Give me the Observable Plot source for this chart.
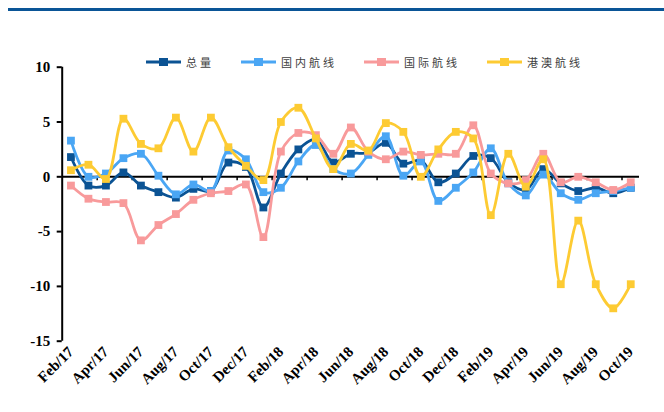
<!DOCTYPE html>
<html><head><meta charset="utf-8">
<script src="https://cdn.jsdelivr.net/npm/d3@7"></script>
<script src="https://cdn.jsdelivr.net/npm/@observablehq/plot@0.6"></script>
<style>
body{margin:0;background:#fff;width:664px;height:412px;overflow:hidden;position:relative;}
#bar{position:absolute;left:8px;top:8px;width:656px;height:3px;background:#0a5597}
#chart{position:absolute;left:0;top:0}
#legend{position:absolute;top:54px;left:146px;display:flex;gap:27px;font-family:"Noto Sans CJK SC",sans-serif;font-size:11px;color:#404040;letter-spacing:3px;line-height:16px}
.item{display:flex;align-items:center;gap:5px}
</style></head><body>
<div id="bar"></div>
<div id="chart"></div>
<div id="legend"></div>
<script>
const months = ["Feb/17","Mar/17","Apr/17","May/17","Jun/17","Jul/17","Aug/17","Sep/17","Oct/17","Nov/17","Dec/17",
  "Jan/18","Feb/18","Mar/18","Apr/18","May/18","Jun/18","Jul/18","Aug/18","Sep/18","Oct/18","Nov/18","Dec/18",
  "Jan/19","Feb/19","Mar/19","Apr/19","May/19","Jun/19","Jul/19","Aug/19","Sep/19","Oct/19"];
const tickLabels = ["Feb/17","Apr/17","Jun/17","Aug/17","Oct/17","Dec/17","Feb/18","Apr/18","Jun/18","Aug/18","Oct/18","Dec/18","Feb/19","Apr/19","Jun/19","Aug/19","Oct/19"];
const seriesNames = ["总量","国内航线","国际航线","港澳航线"];
const seriesColors = ["#0b5394","#4aa6f4","#f89a9b","#fdcb33"];
const total    = [1.8,-0.8,-0.8,0.4,-0.8,-1.4,-1.9,-1.1,-1.3,1.3,0.9,-2.8,0.3,2.5,3.4,1.3,2.1,2.2,3.1,1.2,1.5,-0.5,0.3,1.9,1.7,-0.5,-1.2,0.7,-0.6,-1.3,-1.0,-1.5,-1.0];
const domestic = [3.3,0.0,0.3,1.7,2.1,0.1,-1.6,-0.7,-1.3,2.4,1.6,-1.4,-1.0,1.4,2.9,0.7,0.3,2.0,3.7,0.1,1.4,-2.2,-1.0,0.4,2.6,-0.6,-1.7,0.2,-1.5,-2.1,-1.5,-1.3,-1.0];
const intl     = [-0.8,-2.0,-2.3,-2.4,-5.8,-4.4,-3.4,-2.1,-1.5,-1.3,-0.7,-5.5,2.3,4.0,3.8,2.1,4.5,2.3,1.6,2.3,2.0,2.1,2.1,4.7,0.3,-0.6,-0.3,2.1,-0.5,0.0,-0.5,-1.2,-0.5];
const hkmo     = [0.6,1.1,-0.2,5.3,3.0,2.6,5.4,2.3,5.4,2.7,1.0,-0.3,5.0,6.3,3.5,0.7,3.0,2.4,4.9,4.1,0.0,2.5,4.1,3.5,-3.5,2.1,-0.9,1.6,-9.8,-4.0,-9.8,-12.0,-9.8];
const yTicks = [-15,-10,-5,0,5,10];

const seriesValues = [total, domestic, intl, hkmo];
const n = months.length;
const xDomain = [-0.5, n - 0.5];
const tickIdx = tickLabels.map(l => months.indexOf(l));
const boundaries = d3.range(1.5, n - 0.5, 2);

const seriesMarks = [];
seriesValues.forEach((vals, s) => {
  const rows = vals.map((v, i) => ({i, month: months[i], value: v}));
  seriesMarks.push(Plot.line(rows, {x: "i", y: "value", stroke: seriesColors[s], strokeWidth: 2.8, curve: "catmull-rom"}));
  seriesMarks.push(Plot.dot(rows, {x: "i", y: "value", symbol: "square", fill: seriesColors[s], r: 4.4}));
});

const chart = Plot.plot({
  width: 664, height: 412,
  marginTop: 66.7, marginBottom: 71.3, marginLeft: 61.7, marginRight: 25,
  x: {type: "linear", domain: xDomain},
  y: {domain: [-15, 10]},
  style: {fontFamily: "'Liberation Serif', serif", fontWeight: "bold", fontSize: "15px", color: "#000", background: "transparent", overflow: "visible"},
  marks: [
    Plot.ruleY([0], {stroke: "#000", strokeWidth: 2}),
    Plot.ruleX(boundaries, {y1: 0, y2: -0.35, stroke: "#000", strokeWidth: 1.5}),
    Plot.ruleX([xDomain[0]], {y1: -15, y2: 10, stroke: "#000", strokeWidth: 2}),
    Plot.axisY({ticks: yTicks, tickSize: 5, tickPadding: 7, tickFormat: d => String(d), label: null, strokeWidth: 2}),
    Plot.axisX({ticks: tickIdx, tickFormat: i => months[i], tickRotate: -45, tickSize: 0, tickPadding: 8, label: null}),
    ...seriesMarks
  ]
});
document.getElementById("chart").appendChild(chart);

const legend = document.getElementById("legend");
seriesNames.forEach((name, s) => {
  const item = document.createElement("div");
  item.className = "item";
  item.innerHTML = `<svg width="35" height="10"><line x1="0" x2="35" y1="5" y2="5" stroke="${seriesColors[s]}" stroke-width="3"/><rect x="13" y="1" width="9" height="8" fill="${seriesColors[s]}"/></svg><span>${name}</span>`;
  legend.appendChild(item);
});
</script>
</body></html>
